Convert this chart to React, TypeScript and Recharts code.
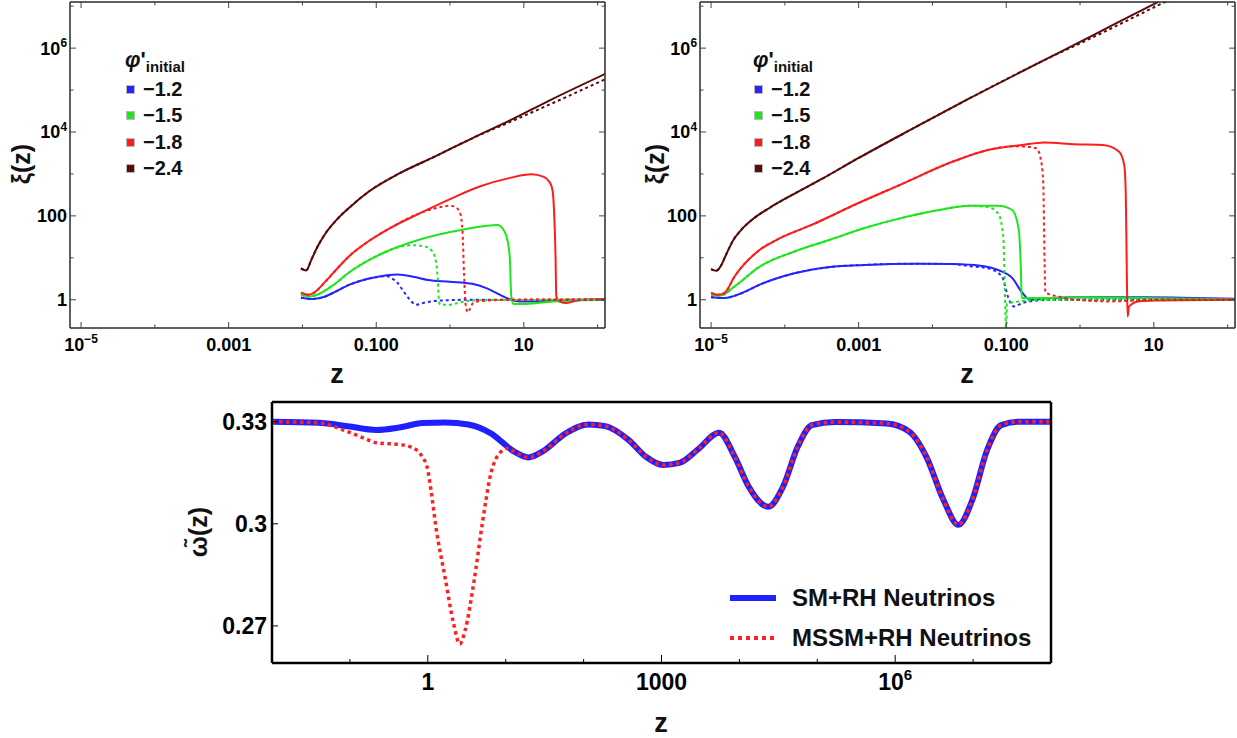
import React from "react";
import { LineChart, Line, XAxis, YAxis, Legend } from "recharts";

const FONT = "'Liberation Sans', Arial, Helvetica, sans-serif";

// points are [log10 z, log10 xi]
type Pt = [number, number];

// ---------- upper left panel (curves start at z = 0.01)
const leftBlue: Pt[] = [[-2.02, 0.05], [-1.86, 0.02], [-1.7, 0.07], [-1.59, 0.16], [-1.36, 0.36], [-1.03, 0.53], [-0.71, 0.6], [-0.5, 0.55], [-0.3, 0.47], [0, 0.43], [0.3, 0.38], [0.5, 0.27], [0.65, 0.14], [0.8, 0.02], [0.94, -0.04], [1.17, -0.04], [1.6, 0], [2.12, 0]];
const leftBlueDotTail: Pt[] = [[-0.85, 0.56], [-0.78, 0.5], [-0.71, 0.4], [-0.65, 0.25], [-0.58, 0.08], [-0.5, -0.08], [-0.46, -0.12], [-0.35, -0.07], [-0.15, -0.02], [0.3, 0], [2.12, 0]];
const leftGreen: Pt[] = [[-2.02, 0.11], [-1.9, 0.08], [-1.8, 0.12], [-1.59, 0.34], [-1.36, 0.66], [-0.9, 1.12], [-0.44, 1.42], [0.02, 1.62], [0.48, 1.76], [0.64, 1.78], [0.73, 1.65], [0.78, 1.4], [0.81, 1.0], [0.83, 0.08], [0.86, -0.1], [1.03, -0.1], [1.4, -0.04], [2.12, 0]];
const leftGreenDotTail: Pt[] = [[-0.76, 1.22], [-0.5, 1.3], [-0.34, 1.27], [-0.24, 1.15], [-0.19, 0.9], [-0.16, 0.3], [-0.15, -0.05], [-0.13, -0.12], [0, -0.12], [0.14, -0.06], [0.4, -0.01], [2.12, 0]];
const leftRed: Pt[] = [[-2.02, 0.17], [-1.92, 0.12], [-1.85, 0.16], [-1.68, 0.45], [-1.5, 0.8], [-1.36, 1.05], [-1.1, 1.4], [-0.8, 1.72], [-0.4, 2.07], [0, 2.4], [0.4, 2.7], [0.8, 2.9], [1.1, 2.99], [1.27, 2.93], [1.35, 2.8], [1.39, 2.6], [1.41, 2.1], [1.43, 1.0], [1.44, 0.08], [1.48, -0.04], [1.56, -0.08], [1.75, -0.01], [2.12, 0.02]];
const leftRedDotTail: Pt[] = [[-0.2, 2.18], [0, 2.24], [0.08, 2.2], [0.14, 2.05], [0.17, 1.6], [0.19, 0.6], [0.21, -0.1], [0.24, -0.3], [0.27, -0.22], [0.31, -0.08], [0.42, -0.03], [0.8, 0], [2.12, 0.01]];
const leftBrown: Pt[] = [[-2.02, 0.75], [-1.95, 0.7], [-1.88, 0.95], [-1.8, 1.25], [-1.7, 1.55], [-1.55, 1.88], [-1.35, 2.22], [-1.1, 2.58], [-0.7, 3.0], [-0.2, 3.42], [0.3, 3.85], [0.84, 4.3], [1.38, 4.78], [2.12, 5.4]];
const leftBrownDotTail: Pt[] = [[0.84, 4.26], [1.38, 4.68], [2.12, 5.27]];

// ---------- upper right panel (curves start at z = 1e-5)
const rightBlue: Pt[] = [[-5, 0.06], [-4.82, 0.04], [-4.58, 0.16], [-4.34, 0.36], [-3.87, 0.63], [-3.39, 0.78], [-2.92, 0.83], [-2.21, 0.86], [-1.73, 0.85], [-1.35, 0.81], [-1.11, 0.71], [-0.92, 0.52], [-0.78, 0.16], [-0.68, 0], [-0.4, 0.04], [-0.07, 0.06], [0.88, 0.06], [2.12, 0.02]];
const rightBlueDotTail: Pt[] = [[-1.49, 0.8], [-1.25, 0.75], [-1.06, 0.56], [-0.97, 0.04], [-0.9, -0.16], [-0.78, -0.08], [-0.59, -0.02], [-0.3, 0], [2.12, 0]];
const rightGreen: Pt[] = [[-5, 0.12], [-4.87, 0.1], [-4.68, 0.32], [-4.34, 0.79], [-3.87, 1.15], [-3.39, 1.43], [-2.92, 1.71], [-2.44, 1.94], [-1.97, 2.12], [-1.49, 2.24], [-1.11, 2.24], [-0.92, 2.14], [-0.83, 1.67], [-0.8, 0.63], [-0.79, 0.04], [-0.54, 0.04], [-0.07, 0.06], [0.88, 0.04], [2.12, 0.01]];
const rightGreenDotTail: Pt[] = [[-1.25, 2.21], [-1.11, 2.06], [-1.04, 1.51], [-1.02, 0.32], [-1.0, -0.8], [-0.99, -0.1], [-0.95, -0.08], [-0.83, -0.04], [-0.5, 0], [2.12, 0]];
const rightRed: Pt[] = [[-5, 0.16], [-4.91, 0.12], [-4.82, 0.16], [-4.68, 0.56], [-4.34, 1.19], [-4.11, 1.43], [-3.63, 1.79], [-3.01, 2.3], [-2.44, 2.74], [-1.73, 3.29], [-1.25, 3.57], [-0.78, 3.69], [-0.49, 3.75], [-0.07, 3.71], [0.31, 3.69], [0.53, 3.53], [0.6, 3.2], [0.62, 2.5], [0.635, 0.5], [0.645, -0.4], [0.665, -0.16], [0.79, -0.04], [1.03, -0.02], [2.12, 0]];
const rightRedDotTail: Pt[] = [[-0.9, 3.66], [-0.73, 3.65], [-0.59, 3.61], [-0.54, 3.41], [-0.5, 2.86], [-0.48, 0.87], [-0.47, 0.17], [-0.3, 0.08], [-0.07, 0], [0.41, -0.04], [1.12, 0], [2.12, 0]];
const rightBrown: Pt[] = [[-5, 0.73], [-4.93, 0.69], [-4.87, 0.8], [-4.79, 1.1], [-4.7, 1.42], [-4.6, 1.65], [-4.45, 1.9], [-4.2, 2.2], [-3.9, 2.5], [-3.5, 2.88], [-3.0, 3.38], [-2.3, 4.05], [-1.5, 4.8], [-0.5, 5.7], [0.2, 6.33], [1.0, 7.05], [2.12, 8.05]];
const rightBrownDotTail: Pt[] = [[0.2, 6.28], [1.15, 7.1], [2.12, 7.92]];

const phiLabels = ["\u22121.2", "\u22121.5", "\u22121.8", "\u22122.4"];
const phiColors = ["#2424ff", "#1ee61e", "#ff1c1c", "#5a0a0a"];

// ---------- bottom panel: omega(z), log10 z grid
const smLgZ = [-2, -1.4, -1.03, -0.66, -0.37, -0.07, 0.22, 0.52, 0.81, 1.11, 1.29, 1.47, 1.77, 2.06, 2.28, 2.58, 2.8, 3.02, 3.24, 3.46, 3.74, 3.94, 4.12, 4.37, 4.56, 4.75, 4.93, 5.23, 5.89, 6.18, 6.4, 6.62, 6.81, 6.99, 7.18, 7.36, 7.58, 8];
const smOmega = [0.33, 0.3297, 0.3287, 0.3276, 0.3283, 0.3296, 0.3298, 0.3292, 0.3266, 0.3212, 0.3195, 0.3212, 0.3266, 0.3292, 0.3287, 0.3246, 0.3197, 0.3173, 0.318, 0.3217, 0.3268, 0.3197, 0.3109, 0.305, 0.3109, 0.3227, 0.329, 0.3299, 0.3295, 0.3271, 0.3197, 0.307, 0.2997, 0.307, 0.3217, 0.329, 0.33, 0.33];
const mssmLgZ = [-2, -1.4, -1.1, -0.81, -0.66, -0.37, -0.22, -0.07, 0, 0.04, 0.11, 0.22, 0.33, 0.41, 0.48, 0.59, 0.7, 0.81, 0.92, 1.03];
const mssmOmega = [0.33, 0.3297, 0.3277, 0.3251, 0.3238, 0.3233, 0.3226, 0.3197, 0.3158, 0.31, 0.2982, 0.2845, 0.2708, 0.2647, 0.2688, 0.2826, 0.3001, 0.3148, 0.3207, 0.3222];
const omegaNames = ["SM+RH Neutrinos", "MSSM+RH Neutrinos"];

// ---------- ticks
const xiZMajor = [1e-5, 1e-3, 0.1, 10];
const xiZMinor = [1e-4, 1e-2, 1, 100];
const xiZLabels = [["10", "\u22125"], ["0.001", ""], ["0.100", ""], ["10", ""]];
const xiMajor = [1, 100, 1e4, 1e6];
const xiMinor = [10, 1000, 1e5, 1e7];
const xiLabels = [["1", ""], ["100", ""], ["10", "4"], ["10", "6"]];
const omZMajor = [1, 1000, 1e6];
const omZMinor = [0.1, 10, 100, 1e4, 1e5, 1e7];
const omZLabels = [["1", ""], ["1000", ""], ["10", "6"]];
const omMajor = [0.27, 0.3, 0.33];
const omLabels = [["0.27", ""], ["0.3", ""], ["0.33", ""]];

const xiZDomain = [Math.pow(10, -5.15), Math.pow(10, 2.1)];
const xiDomain = [Math.pow(10, -0.674), Math.pow(10, 7.1)];
const omZDomain = [0.01, 1e8];
const omDomain = [0.2591, 0.3358];

const rows = (pts: Pt[]) => pts.map(([lz, lx]) => ({ z: Math.pow(10, lz), xi: Math.pow(10, lx) }));
const joinDot = (solid: Pt[], tail: Pt[]) => [...solid.filter((p) => p[0] < tail[0][0]), ...tail];

function AxisTick(props: any) {
  const { x, y, payload, side, majors, labels, fs, majorLen, minorLen, gap, stroke } = props;
  const i = majors.indexOf(payload.value);
  const len = i < 0 ? minorLen : majorLen;
  let line;
  if (side === "bottom") line = <line x1={x} y1={y} x2={x} y2={y - len} />;
  else if (side === "top") line = <line x1={x} y1={y} x2={x} y2={y + len} />;
  else if (side === "left") line = <line x1={x} y1={y} x2={x + len} y2={y} />;
  else line = <line x1={x} y1={y} x2={x - len} y2={y} />;
  let text = null;
  if (labels && i >= 0) {
    const [base, sup] = labels[i];
    const s = sup ? (
      <tspan dy={-fs * 0.42} fontSize={fs * 0.66}>
        {sup}
      </tspan>
    ) : null;
    text =
      side === "bottom" ? (
        <text x={x} y={y + gap} textAnchor="middle" fontSize={fs} fontWeight={700} fontFamily={FONT} fill="#000">
          {base}
          {s}
        </text>
      ) : (
        <text x={x - gap} y={y + fs * 0.36} textAnchor="end" fontSize={fs} fontWeight={700} fontFamily={FONT} fill="#000">
          {base}
          {s}
        </text>
      );
  }
  return (
    <g>
      <g stroke={stroke} strokeWidth={1}>{line}</g>
      {text}
    </g>
  );
}

function PhiLegend({ payload }: any) {
  const items = phiLabels.map((l) => (payload || []).find((p: any) => p.value === l)).filter(Boolean);
  return (
    <div style={{ fontFamily: FONT, fontWeight: 700, color: "#111" }}>
      <div style={{ height: 24, lineHeight: "16px", fontSize: 22, whiteSpace: "nowrap" }}>
        <i>{"\u03c6"}</i>'
        <span style={{ fontSize: 15, position: "relative", top: 5 }}>initial</span>
      </div>
      {items.map((p: any) => (
        <div key={p.value} style={{ height: 26.5, display: "flex", alignItems: "center" }}>
          <span style={{ display: "inline-block", width: 7, height: 7, background: p.color, border: "1px solid #bbb", marginLeft: 1, marginRight: 8 }} />
          <span style={{ fontSize: 20 }}>{p.value}</span>
        </div>
      ))}
    </div>
  );
}

const omegaStyles = [
  { w: 6, dash: undefined },
  { w: 4, dash: "4 4" },
];

function OmegaLegend({ payload }: any) {
  const items = omegaNames.map((l) => (payload || []).find((p: any) => p.value === l)).filter(Boolean);
  return (
    <div style={{ fontFamily: FONT, fontWeight: 700, color: "#111", fontSize: 24 }}>
      {items.map((p: any, i: number) => (
        <div key={p.value} style={{ height: 40, display: "flex", alignItems: "center", whiteSpace: "nowrap" }}>
          <svg width={46} height={10} style={{ marginRight: 16 }}>
            <line x1={0} y1={5} x2={46} y2={5} stroke={p.color} strokeWidth={omegaStyles[i].w} strokeDasharray={omegaStyles[i].dash} />
          </svg>
          <span>{p.value}</span>
        </div>
      ))}
    </div>
  );
}

const frameTop = { stroke: "#2a2a2a", strokeWidth: 1.5 };
const frameBottom = { stroke: "#000", strokeWidth: 2.5 };

function XiPanel({ left, width, yw, rw, curves, legendLeft }: any) {
  const tickBase = { majorLen: 6, minorLen: 3.5, stroke: "#444", fs: 18 };
  return (
    <div style={{ position: "absolute", left, top: 0 }}>
      <LineChart width={width} height={390} margin={{ top: 0, right: 0, bottom: 0, left: 0 }}>
        <XAxis xAxisId="b" dataKey="z" type="number" scale="log" domain={xiZDomain} allowDataOverflow ticks={[...xiZMajor, ...xiZMinor]} interval={0} height={62} tickLine={false} tickSize={0} tickMargin={0} axisLine={frameTop} tick={<AxisTick side="bottom" majors={xiZMajor} labels={xiZLabels} gap={23} {...tickBase} />} />
        <XAxis xAxisId="t" orientation="top" dataKey="z" type="number" scale="log" domain={xiZDomain} allowDataOverflow ticks={[...xiZMajor, ...xiZMinor]} interval={0} height={2} tickLine={false} tickSize={0} tickMargin={0} axisLine={frameTop} tick={<AxisTick side="top" majors={xiZMajor} {...tickBase} />} />
        <YAxis yAxisId="l" type="number" scale="log" domain={xiDomain} allowDataOverflow ticks={[...xiMajor, ...xiMinor]} interval={0} width={yw} tickLine={false} tickSize={0} tickMargin={0} axisLine={frameTop} tick={<AxisTick side="left" majors={xiMajor} labels={xiLabels} gap={3} {...tickBase} />} />
        <YAxis yAxisId="r" orientation="right" type="number" scale="log" domain={xiDomain} allowDataOverflow ticks={[...xiMajor, ...xiMinor]} interval={0} width={rw} tickLine={false} tickSize={0} tickMargin={0} axisLine={frameTop} tick={<AxisTick side="right" majors={xiMajor} {...tickBase} />} />
        {curves.map((c: any, i: number) => (
          <Line key={"s" + i} xAxisId="b" yAxisId="l" data={rows(c.solid)} dataKey="xi" name={phiLabels[i]} type="monotone" stroke={phiColors[i]} strokeWidth={2} dot={false} activeDot={false} isAnimationActive={false} legendType="square" />
        ))}
        {curves.map((c: any, i: number) => (
          <Line key={"d" + i} xAxisId="b" yAxisId="l" data={rows(c.dotted)} dataKey="xi" name={phiLabels[i] + " dotted"} type="monotone" stroke={phiColors[i]} strokeWidth={2} strokeDasharray="3 3" dot={false} activeDot={false} isAnimationActive={false} legendType="none" />
        ))}
        <Legend content={<PhiLegend />} layout="vertical" align="center" verticalAlign="middle" wrapperStyle={{ left: legendLeft, top: 52, width: "auto", height: "auto" }} />
      </LineChart>
    </div>
  );
}

function OmegaPanel() {
  const sm = smLgZ.map((v, i) => ({ z: Math.pow(10, v), w: smOmega[i] }));
  const mssm = [
    ...mssmLgZ.map((v, i) => ({ z: Math.pow(10, v), w: mssmOmega[i] })),
    ...sm.filter((d) => d.z > Math.pow(10, mssmLgZ[mssmLgZ.length - 1])),
  ];
  const tickBase = { majorLen: 8, minorLen: 4, stroke: "#000", fs: 23 };
  return (
    <div style={{ position: "absolute", left: 170, top: 390 }}>
      <LineChart width={900} height={348} margin={{ top: 0, right: 0, bottom: 0, left: 0 }}>
        <XAxis xAxisId="b" dataKey="z" type="number" scale="log" domain={omZDomain} allowDataOverflow ticks={[...omZMajor, ...omZMinor]} interval={0} height={75} tickLine={false} tickSize={0} tickMargin={0} axisLine={frameBottom} tick={<AxisTick side="bottom" majors={omZMajor} labels={omZLabels} gap={27} {...tickBase} />} />
        <XAxis xAxisId="t" orientation="top" dataKey="z" type="number" scale="log" domain={omZDomain} allowDataOverflow height={12} tick={false} tickLine={false} axisLine={frameBottom} />
        <YAxis yAxisId="l" type="number" domain={omDomain} allowDataOverflow ticks={omMajor} interval={0} width={102} tickLine={false} tickSize={0} tickMargin={0} axisLine={frameBottom} tick={<AxisTick side="left" majors={omMajor} labels={omLabels} gap={5} {...tickBase} majorLen={6} />} />
        <YAxis yAxisId="r" orientation="right" type="number" domain={omDomain} allowDataOverflow width={19} tick={false} tickLine={false} axisLine={frameBottom} />
        <Line xAxisId="b" yAxisId="l" data={sm} dataKey="w" name={omegaNames[0]} type="monotone" stroke="#2020ff" strokeWidth={6} dot={false} activeDot={false} isAnimationActive={false} />
        <Line xAxisId="b" yAxisId="l" data={mssm} dataKey="w" name={omegaNames[1]} type="monotone" stroke="#ff2020" strokeWidth={3.5} strokeDasharray="3.5 3.5" dot={false} activeDot={false} isAnimationActive={false} />
        <Legend content={<OmegaLegend />} layout="vertical" align="center" verticalAlign="middle" wrapperStyle={{ left: 560, top: 188, width: "auto", height: "auto" }} />
      </LineChart>
    </div>
  );
}

function AxisTitle({ x, y, size, rotate, children }: any) {
  return (
    <div
      style={{
        position: "absolute",
        left: x,
        top: y,
        transform: "translate(-50%, -50%)" + (rotate ? " rotate(-90deg)" : ""),
        fontFamily: FONT,
        fontWeight: 700,
        fontSize: size,
        lineHeight: 1,
        whiteSpace: "nowrap",
        color: "#111",
      }}
    >
      {children}
    </div>
  );
}

const leftCurves = [
  { solid: leftBlue, dotted: joinDot(leftBlue, leftBlueDotTail) },
  { solid: leftGreen, dotted: joinDot(leftGreen, leftGreenDotTail) },
  { solid: leftRed, dotted: joinDot(leftRed, leftRedDotTail) },
  { solid: leftBrown, dotted: joinDot(leftBrown, leftBrownDotTail) },
];
const rightCurves = [
  { solid: rightBlue, dotted: joinDot(rightBlue, rightBlueDotTail) },
  { solid: rightGreen, dotted: joinDot(rightGreen, rightGreenDotTail) },
  { solid: rightRed, dotted: joinDot(rightRed, rightRedDotTail) },
  { solid: rightBrown, dotted: joinDot(rightBrown, rightBrownDotTail) },
];

export default function App() {
  return (
    <div style={{ position: "absolute", left: 0, top: 0, width: 1237, height: 738, background: "#fff" }}>
      <XiPanel left={0} width={620} yw={70} rw={15} curves={leftCurves} legendLeft={125} />
      <XiPanel left={620} width={617} yw={80} rw={2} curves={rightCurves} legendLeft={133} />
      <OmegaPanel />
      <AxisTitle x={21} y={164} size={25} rotate>
        {"\u03be(z)"}
      </AxisTitle>
      <AxisTitle x={655} y={164} size={25} rotate>
        {"\u03be(z)"}
      </AxisTitle>
      <AxisTitle x={337} y={374} size={27}>
        z
      </AxisTitle>
      <AxisTitle x={967} y={374} size={27}>
        z
      </AxisTitle>
      <AxisTitle x={198} y={532} size={25} rotate>
        {"\u03c9\u0303(z)"}
      </AxisTitle>
      <AxisTitle x={661} y={723} size={27}>
        z
      </AxisTitle>
    </div>
  );
}
